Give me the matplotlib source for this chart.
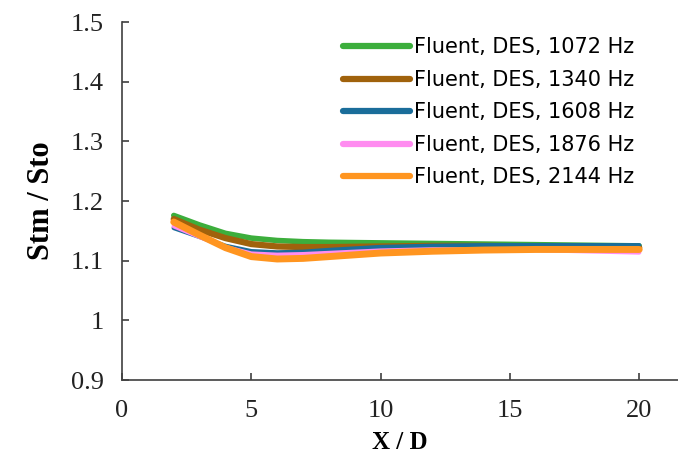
import numpy as np
import matplotlib
matplotlib.use('Agg')
import matplotlib.pyplot as plt

# Stanton number ratio along the duct for the five pulsation frequencies
x_d = [2, 3, 4, 5, 6, 7, 8, 10, 12, 14, 16, 18, 20]
st_1072 = [1.176, 1.160, 1.146, 1.138, 1.134, 1.132, 1.131, 1.130, 1.129, 1.128, 1.127, 1.126, 1.125]
st_1340 = [1.170, 1.152, 1.138, 1.128, 1.124, 1.123, 1.123, 1.124, 1.125, 1.125, 1.124, 1.123, 1.122]
st_1608 = [1.155, 1.140, 1.125, 1.116, 1.114, 1.115, 1.118, 1.123, 1.125, 1.126, 1.126, 1.126, 1.126]
st_1876 = [1.158, 1.140, 1.123, 1.112, 1.110, 1.111, 1.113, 1.117, 1.119, 1.119, 1.118, 1.116, 1.114]
st_2144 = [1.165, 1.143, 1.122, 1.107, 1.103, 1.104, 1.107, 1.113, 1.116, 1.118, 1.119, 1.119, 1.119]

labels = ['Fluent, DES, 1072 Hz', 'Fluent, DES, 1340 Hz', 'Fluent, DES, 1608 Hz',
          'Fluent, DES, 1876 Hz', 'Fluent, DES, 2144 Hz']
colors = ['#3cae3c', '#a0620c', '#1a6d9a', '#ff8cf0', '#ff9520']
widths = [4.0, 4.5, 3.2, 3.2, 5.0]
series = [st_1072, st_1340, st_1608, st_1876, st_2144]

fig = plt.figure(figsize=(6.78, 4.53), dpi=100)
ax = fig.add_axes([0.18, 0.161, 0.82, 0.79])

for y, lab, c, w in zip(series, labels, colors, widths):
    ax.plot(x_d, y, color=c, lw=w, label=lab, solid_capstyle='round', solid_joinstyle='round')

ax.set_xlim(0, 21.5)
ax.set_ylim(0.9, 1.5)
ax.set_xticks([0, 5, 10, 15, 20])
ax.set_xticklabels(['0', '5', '10', '15', '20'])
ax.set_yticks([0.9, 1.0, 1.1, 1.2, 1.3, 1.4, 1.5])
ax.set_yticklabels(['0.9', '1', '1.1', '1.2', '1.3', '1.4', '1.5'])

for s in ['top', 'right']:
    ax.spines[s].set_visible(False)
for s in ['left', 'bottom']:
    ax.spines[s].set_color('#404040')
    ax.spines[s].set_linewidth(1.2)

ax.tick_params(direction='in', length=5, width=1.2, color='#404040', labelsize=19)
ax.tick_params(axis='y', pad=13)
ax.tick_params(axis='x', pad=14)
for t in ax.get_xticklabels() + ax.get_yticklabels():
    t.set_fontfamily('Liberation Serif')
    t.set_color('#222222')

ax.set_xlabel('X / D', fontfamily='Liberation Serif', fontweight='bold', fontsize=18, labelpad=7)
ax.set_ylabel('Stm / Sto', fontfamily='Liberation Serif', fontweight='bold', fontsize=22, labelpad=11)

leg = ax.legend(loc='upper right', bbox_to_anchor=(0.955, 1.01), frameon=False,
                prop={'family': 'DejaVu Sans', 'size': 15}, handlelength=3.2,
                handletextpad=0.2, labelspacing=0.6)
for h in leg.get_lines():
    h.set_linewidth(4.5)

fig.savefig('out.png', dpi=100)
